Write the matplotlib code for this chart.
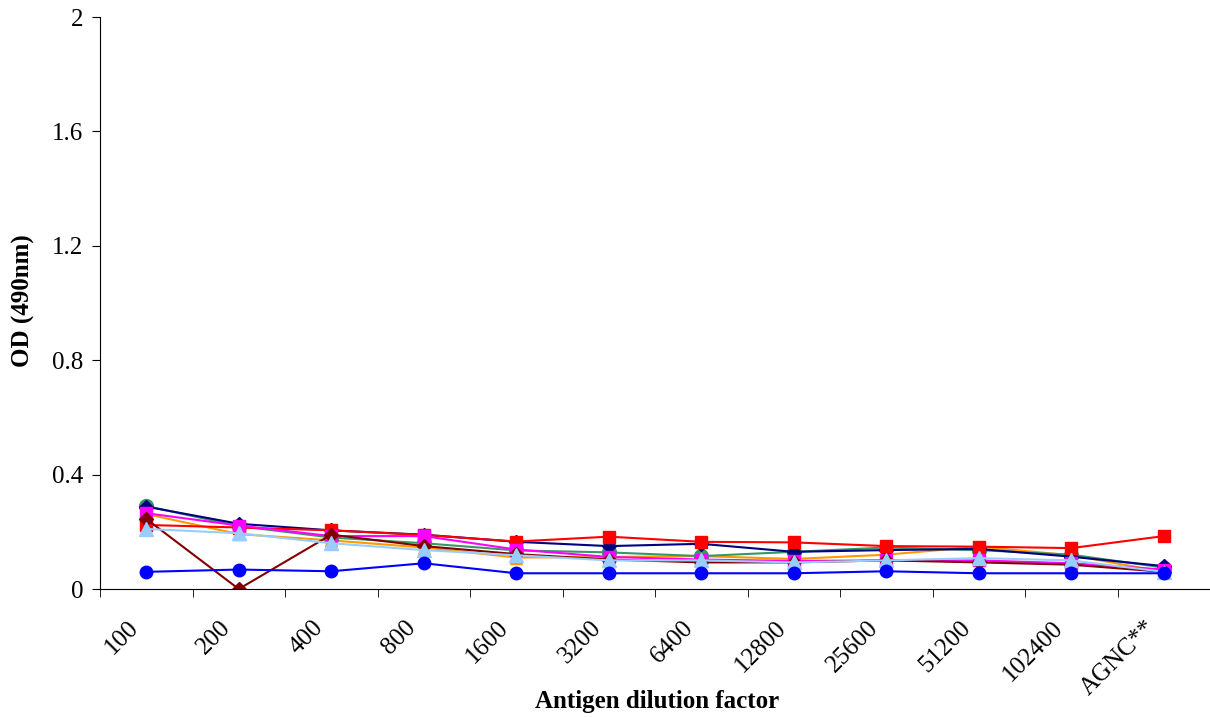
import numpy as np
import matplotlib.pyplot as plt
from matplotlib.transforms import ScaledTranslation

plt.rcParams['font.family'] = ['Liberation Serif', 'DejaVu Serif']

# Verdunningen van het antigen
dilutions = ['100', '200', '400', '800', '1600', '3200', '6400', '12800',
             '25600', '51200', '102400', 'AGNC**']

# OD-waarden per serum
navy_vals = [0.288, 0.228, 0.205, 0.190, 0.165, 0.150, 0.158, 0.130, 0.136, 0.140, 0.113, 0.080]
red_vals = [0.224, 0.215, 0.205, 0.189, 0.166, 0.183, 0.165, 0.163, 0.150, 0.148, 0.143, 0.185]
green_vals = [0.290, 0.220, 0.180, 0.160, 0.135, 0.128, 0.115, 0.130, 0.145, 0.136, 0.120, 0.075]
orange_vals = [0.262, 0.192, 0.170, 0.145, 0.110, 0.112, 0.115, 0.105, 0.120, 0.148, 0.118, 0.060]
magenta_vals = [0.265, 0.222, 0.185, 0.185, 0.138, 0.112, 0.103, 0.098, 0.100, 0.100, 0.090, 0.068]
maroon_vals = [0.245, 0.000, 0.190, 0.150, 0.122, 0.103, 0.093, 0.093, 0.100, 0.093, 0.085, 0.060]
sky_vals = [0.210, 0.195, 0.160, 0.136, 0.118, 0.100, 0.100, 0.093, 0.100, 0.108, 0.100, 0.060]
blue_vals = [0.060, 0.068, 0.062, 0.090, 0.055, 0.055, 0.055, 0.055, 0.062, 0.055, 0.055, 0.055]

x = np.arange(len(dilutions))

fig = plt.figure(figsize=(12.1, 7.17), dpi=100)
ax = fig.add_axes([100/1210, 128/717, 1110/1210, 572/717])

ax.plot(x, orange_vals, color='#FF9900', marker='^', markersize=9, lw=1.5)
ax.plot(x, green_vals, color='#339966', marker='o', markersize=10, lw=1.5)
ax.plot(x, navy_vals, color='#000080', marker='D', markersize=7, lw=1.5)
ax.plot(x, red_vals, color='#FF0000', marker='s', markersize=9, lw=1.5)
ax.plot(x, magenta_vals, color='#FF00FF', marker='s', markersize=9, lw=1.5)
ax.plot(x, maroon_vals, color='#800000', marker='D', markersize=7, lw=1.5)
ax.plot(x, sky_vals, color='#99CCFF', marker='^', markersize=10, lw=1.5)
ax.plot(x, blue_vals, color='#0000FF', marker='o', markersize=9, lw=1.5)

ax.set_xlim(-0.5, len(dilutions) - 0.5)
ax.set_ylim(0, 2)
ax.set_yticks([0, 0.4, 0.8, 1.2, 1.6, 2])
ax.set_yticklabels(['0', '0.4', '0.8', '1.2', '1.6', '2'])

# categorie-labels in het midden, streepjes op de grenzen
ax.set_xticks(x)
ax.set_xticklabels(dilutions, rotation=45, ha='right', rotation_mode='anchor')
ax.set_xticks(np.arange(-0.5, len(dilutions)), minor=True)
ax.tick_params(axis='x', which='major', length=0, pad=20, labelsize=18)
ax.tick_params(axis='x', which='minor', length=6, direction='out')
ax.tick_params(axis='y', length=6, direction='out', labelsize=18, pad=6)

# labels iets naar links schuiven
shift = ScaledTranslation(-19/100, 0, fig.dpi_scale_trans)
for lbl in ax.get_xticklabels():
    lbl.set_transform(lbl.get_transform() + shift)

ax.spines['top'].set_visible(False)
ax.spines['right'].set_visible(False)

ax.set_xlabel('Antigen dilution factor', fontsize=18, fontweight='bold', va='center')
ax.xaxis.set_label_coords(0.502, -0.197)
ax.set_ylabel('OD (490nm)', fontsize=18, fontweight='bold', va='center')
ax.yaxis.set_label_coords(-0.069, 0.505)

fig.savefig('out.png', dpi=100)
